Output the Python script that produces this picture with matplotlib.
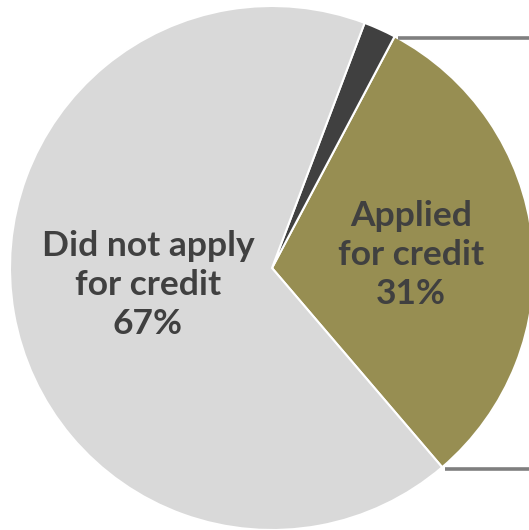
import matplotlib
matplotlib.use("Agg")
import matplotlib.pyplot as plt
import numpy as np

labels = ["Applied\nfor credit", "", "Did not apply\nfor credit"]
shares = [31, 2, 67]
colors = ["#978E52", "#404040", "#D9D9D9"]
show_label = [True, False, True]

W, H = 529, 530
fig = plt.figure(figsize=(W / 100, H / 100), dpi=100)
ax = fig.add_axes([0, 0, 1, 1])
ax.set_xlim(0, W)
ax.set_ylim(0, H)
ax.set_aspect("equal")
ax.axis("off")

cx, cy, r = 272, H - 268, 262
wedges, _ = ax.pie(shares, colors=colors, startangle=-49.5, counterclock=True,
                   radius=r, center=(cx, cy),
                   wedgeprops=dict(edgecolor="white", linewidth=1.5))
ax.set_xlim(0, W)
ax.set_ylim(0, H)

# labels inside the two main wedges
label_pos = {0: (411, H - 255), 2: (148, H - 285)}
for i, (lab, v) in enumerate(zip(labels, shares)):
    if not show_label[i]:
        continue
    x, y = label_pos[i]
    ax.text(x, y, f"{lab}\n{v}%", ha="center", va="center",
            fontsize=25.5, fontweight="bold", family="Lato",
            color="#404040", linespacing=1.26)

# connector lines from the ends of the applied wedge to the right edge
w = wedges[0]
for th in (w.theta2, w.theta1):
    t = np.deg2rad(th)
    px, py = cx + r * np.cos(t), cy + r * np.sin(t)
    ax.plot([px + 3, W], [py - 2, py - 2], color="#7F7F7F", linewidth=2.6,
            solid_capstyle="butt")

fig.savefig("out.png", dpi=100)
